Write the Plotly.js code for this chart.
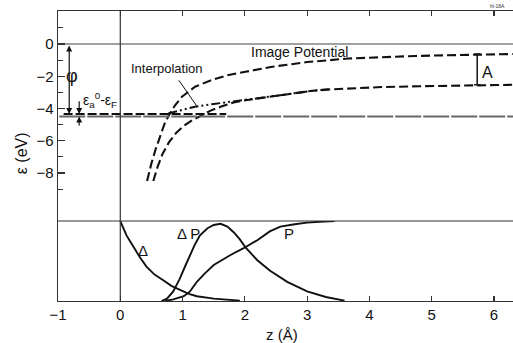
<!DOCTYPE html>
<html>
<head>
<meta charset="utf-8">
<script src="https://cdn.plot.ly/plotly-3.0.1.min.js"></script>
<style>html,body{margin:0;padding:0;background:#fff;overflow:hidden}#chart{width:513px;height:343px}</style>
</head>
<body>
<div id="chart"></div>
<script>
// Upper panel: energy levels (eV) vs distance z (Å)
const imageZ = [0.43, 0.50, 0.57, 0.64, 0.71, 0.79, 0.88, 0.99, 1.20, 1.47, 1.74, 2.01, 2.44, 3.0, 3.66, 4.74, 5.5, 6.30];
const imageE = [-8.5, -7.4, -6.5, -5.7, -4.95, -4.35, -3.8, -3.27, -2.65, -2.23, -1.92, -1.72, -1.41, -1.12, -0.9, -0.74, -0.67, -0.62];

const lowerZ = [0.53, 0.60, 0.68, 0.78, 0.90, 1.03, 1.16, 1.30, 1.45, 1.62, 1.82, 2.04, 2.2, 2.44, 2.74, 3.06, 3.35, 3.8, 4.19, 4.8, 5.27, 5.8, 6.30];
const lowerE = [-8.5, -7.6, -6.8, -6.1, -5.5, -5.05, -4.72, -4.42, -4.13, -3.88, -3.62, -3.47, -3.38, -3.23, -3.07, -2.91, -2.82, -2.72, -2.67, -2.62, -2.59, -2.56, -2.53];

const interpZ = [0.77, 1.0, 1.2, 1.5, 1.74, 2.0, 2.2, 2.44, 2.74, 3.06, 3.35];
const interpE = [-4.3, -4.06, -3.89, -3.72, -3.58, -3.46, -3.37, -3.23, -3.07, -2.91, -2.81];

const affinityLevel = -4.34;   // ε_a^0 - ε_F level
const fermiLevel = -4.49;
const vacuumLevel = 0;

// Lower panel: occupation functions
const deltaZ = [0, 0.05, 0.1, 0.155, 0.25, 0.32, 0.42, 0.55, 0.69, 0.82, 0.96, 1.1, 1.23, 1.5, 1.92];
const deltaV = [1.0, 0.9, 0.82, 0.75, 0.62, 0.54, 0.43, 0.33, 0.26, 0.19, 0.14, 0.09, 0.06, 0.03, 0.005];

const dPZ = [0.66, 0.75, 0.85, 0.95, 1.05, 1.12, 1.2, 1.28, 1.4, 1.5, 1.61, 1.72, 1.82, 1.92, 2.01, 2.2, 2.4, 2.68, 3.0, 3.3, 3.6];
const dPV = [0, 0.03, 0.12, 0.27, 0.45, 0.57, 0.71, 0.82, 0.91, 0.95, 0.965, 0.93, 0.86, 0.77, 0.67, 0.51, 0.38, 0.24, 0.12, 0.05, 0.005];

const pZ = [0.72, 0.85, 1.02, 1.12, 1.23, 1.35, 1.5, 1.65, 1.77, 1.98, 2.2, 2.4, 2.57, 2.8, 3.0, 3.2, 3.44];
const pV = [0, 0.02, 0.06, 0.12, 0.24, 0.34, 0.45, 0.52, 0.575, 0.66, 0.76, 0.87, 0.93, 0.96, 0.98, 0.99, 1.0];

const xTicks = [-1, 0, 1, 2, 3, 4, 5, 6];
const xTickText = ['\u22121', '0', '1', '2', '3', '4', '5', '6'];
const yTicks = [0, -2, -4, -6, -8];
const yTickText = ['0', '\u22122', '\u22124', '\u22126', '\u22128'];
const yMinorTicks = [1, -1, -3, -5, -7, -9];

const ink = '#111';
const FONT = 'Liberation Sans, Arial, sans-serif';
const xRange = [-1, 6.305];

const traces = [
  {x: imageZ, y: imageE, xaxis: 'x2', yaxis: 'y', mode: 'lines', line: {color: ink, width: 2.1, dash: '9px,4px'}, hoverinfo: 'skip'},
  {x: lowerZ, y: lowerE, xaxis: 'x2', yaxis: 'y', mode: 'lines', line: {color: ink, width: 2.1, dash: '9px,4px'}, hoverinfo: 'skip'},
  {x: interpZ, y: interpE, xaxis: 'x2', yaxis: 'y', mode: 'lines', line: {color: ink, width: 2, dash: '9px,3px,2px,3px,2px,3px'}, hoverinfo: 'skip'},
  {x: [-0.91, 1.70], y: [affinityLevel, affinityLevel], xaxis: 'x2', yaxis: 'y', mode: 'lines', line: {color: ink, width: 1.8, dash: '9px,3px'}, hoverinfo: 'skip'},
  {x: [-0.98, 6.305], y: [fermiLevel, fermiLevel], xaxis: 'x2', yaxis: 'y', mode: 'lines', line: {color: '#666', width: 2, dash: '26px,2px'}, hoverinfo: 'skip'},
  {x: [-0.91, 6.305], y: [vacuumLevel, vacuumLevel], xaxis: 'x2', yaxis: 'y', mode: 'lines', line: {color: '#444', width: 1.2}, hoverinfo: 'skip'},
  {x: deltaZ, y: deltaV, xaxis: 'x', yaxis: 'y2', mode: 'lines', line: {color: ink, width: 1.9}, hoverinfo: 'skip'},
  {x: dPZ, y: dPV, xaxis: 'x', yaxis: 'y2', mode: 'lines', line: {color: ink, width: 1.9}, hoverinfo: 'skip'},
  {x: pZ, y: pV, xaxis: 'x', yaxis: 'y2', mode: 'lines', line: {color: ink, width: 1.9}, hoverinfo: 'skip'}
];

const split = 80 / 290;

const layout = {
  width: 513, height: 343,
  margin: {l: 58, r: 0, t: 11, b: 42},
  paper_bgcolor: '#fff', plot_bgcolor: '#fff',
  showlegend: false,
  font: {family: FONT, size: 13, color: ink},
  xaxis: {
    domain: [0, 1], range: xRange, anchor: 'y2',
    tickvals: xTicks, ticktext: xTickText,
    ticks: 'inside', ticklen: 5, tickwidth: 1.2, tickcolor: '#333',
    showline: true, linecolor: '#333', linewidth: 1.3,
    showgrid: false, zeroline: false,
    tickfont: {family: FONT, size: 15, color: ink}
  },
  xaxis2: {
    domain: [0, 1], range: xRange, anchor: 'y', side: 'top', overlaying: 'x',
    tickvals: xTicks, showticklabels: false,
    ticks: 'inside', ticklen: 5, tickwidth: 1.2, tickcolor: '#333',
    showline: true, linecolor: '#333', linewidth: 1.3,
    showgrid: false, zeroline: false
  },
  yaxis: {
    domain: [split, 1], range: [-10.976, 2.047], anchor: 'x2',
    tickvals: yTicks, ticktext: yTickText,
    ticks: 'inside', ticklen: 7, tickwidth: 1.2, tickcolor: '#333',
    minor: {tickvals: yMinorTicks, ticks: 'inside', ticklen: 5, tickwidth: 1.1, tickcolor: '#333', showgrid: false},
    showline: true, linecolor: '#333', linewidth: 1.3,
    showgrid: false, zeroline: false,
    tickfont: {family: FONT, size: 15, color: ink}
  },
  yaxis2: {
    domain: [0, split], range: [0, 1], anchor: 'x',
    showticklabels: false, ticks: '',
    showline: true, linecolor: '#333', linewidth: 1.3,
    showgrid: false, zeroline: false
  },
  shapes: [
    {type: 'line', xref: 'paper', yref: 'paper', x0: 0, x1: 1, y0: split, y1: split, line: {color: '#333', width: 1.2}},
    {type: 'line', xref: 'x', yref: 'paper', x0: 0, x1: 0, y0: 0, y1: 1, line: {color: '#333', width: 1.2}},
    {type: 'line', xref: 'x2', yref: 'y', x0: 0.94, y0: -2.25, x1: 1.23, y1: -3.86, line: {color: ink, width: 1}},
    {type: 'line', xref: 'x2', yref: 'y', x0: 5.73, x1: 5.73, y0: -0.62, y1: -2.53, line: {color: ink, width: 1.5}},
    {type: 'line', xref: 'x2', yref: 'y', x0: 5.68, x1: 5.78, y0: -0.62, y1: -0.62, line: {color: ink, width: 1.5}},
    {type: 'line', xref: 'x2', yref: 'y', x0: 5.68, x1: 5.78, y0: -2.53, y1: -2.53, line: {color: ink, width: 1.5}}
  ],
  annotations: [
    {xref: 'x2', yref: 'y', x: -0.82, y: affinityLevel, axref: 'x2', ayref: 'y', ax: -0.82, ay: vacuumLevel,
     showarrow: true, arrowhead: 2, arrowside: 'end+start', arrowsize: 1, arrowwidth: 1.2, arrowcolor: ink, text: ''},
    {xref: 'x2', yref: 'y', x: -0.77, y: -1.98, xanchor: 'center', yanchor: 'middle', text: 'φ', showarrow: false, font: {size: 18, color: ink}},
    {xref: 'x2', yref: 'y', x: -0.66, y: affinityLevel, axref: 'x2', ayref: 'y', ax: -0.66, ay: -3.45,
     showarrow: true, arrowhead: 2, arrowsize: 1, arrowwidth: 1.2, arrowcolor: ink, text: ''},
    {xref: 'x2', yref: 'y', x: -0.66, y: fermiLevel, axref: 'x2', ayref: 'y', ax: -0.66, ay: -5.15,
     showarrow: true, arrowhead: 2, arrowsize: 1, arrowwidth: 1.2, arrowcolor: ink, text: ''},
    {xref: 'x2', yref: 'y', x: -0.32, y: -3.5, xanchor: 'center', yanchor: 'middle', text: 'ε<sub>a</sub><sup>0</sup>-ε<sub>F</sub>', showarrow: false, font: {size: 14, color: ink}},
    {xref: 'x2', yref: 'y', x: 0.75, y: -1.49, xanchor: 'center', yanchor: 'middle', text: 'Interpolation', showarrow: false, font: {size: 13, color: ink}},
    {xref: 'x2', yref: 'y', x: 2.88, y: -0.48, xanchor: 'center', yanchor: 'middle', text: 'Image Potential', showarrow: false, font: {size: 14, color: ink}},
    {xref: 'x2', yref: 'y', x: 5.90, y: -1.74, xanchor: 'center', yanchor: 'middle', text: 'A', showarrow: false, font: {size: 16, color: ink}},
    {xref: 'x', yref: 'y2', x: 0.36, y: 0.63, xanchor: 'center', yanchor: 'middle', text: 'Δ', showarrow: false, font: {size: 15, color: ink}},
    {xref: 'x', yref: 'y2', x: 1.10, y: 0.84, xanchor: 'center', yanchor: 'middle', text: 'Δ P', showarrow: false, font: {size: 15, color: ink}},
    {xref: 'x', yref: 'y2', x: 2.71, y: 0.85, xanchor: 'center', yanchor: 'middle', text: 'P', showarrow: false, font: {size: 15, color: ink}},
    {xref: 'x', yref: 'paper', x: 2.59, y: -0.117, xanchor: 'center', yanchor: 'middle', text: 'z (Å)', showarrow: false, font: {size: 15, color: ink}},
    {xref: 'paper', yref: 'paper', x: -0.081, y: 0.51, xanchor: 'center', yanchor: 'middle', text: 'ε (eV)', textangle: -90, showarrow: false, font: {size: 16, color: ink}},
    {xref: 'paper', yref: 'paper', x: 0.965, y: 1.0, xanchor: 'center', yanchor: 'bottom', text: 'hl-18A', showarrow: false, font: {size: 5, color: '#333'}}
  ]
};

Plotly.newPlot('chart', traces, layout, {staticPlot: true, displayModeBar: false});
</script>
</body>
</html>
